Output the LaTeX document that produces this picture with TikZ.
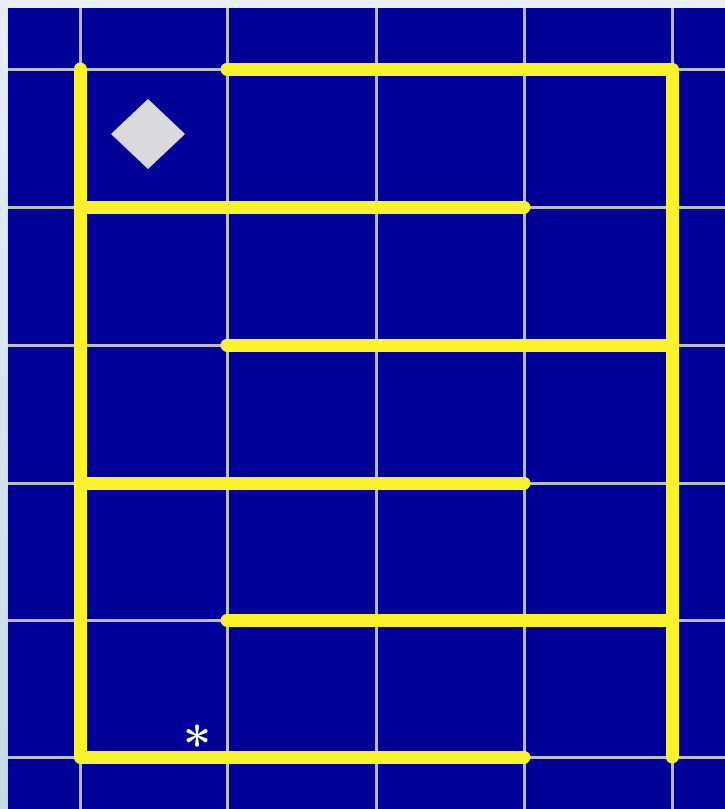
\documentclass[tikz,border=0pt]{standalone}
\usetikzlibrary{shadings}
\definecolor{bgblue}{RGB}{0,0,152}
\definecolor{gridgray}{RGB}{190,188,190}
\definecolor{wallyellow}{RGB}{250,242,45}
\definecolor{diamondgray}{RGB}{218,218,222}
\definecolor{marginleft}{RGB}{196,216,234}
\definecolor{margintop}{RGB}{232,238,244}
\tikzset{
  gridline/.style={draw=gridgray, line width=3pt},
  wall/.style={draw=wallyellow, line width=13pt, line cap=round, line join=round},
}
\begin{document}
\begin{tikzpicture}[x=1pt,y=-1pt]
\useasboundingbox (0,0) rectangle (725,809);
% margins
\fill[margintop] (0,0) rectangle (725,8);
\shade[top color=margintop, bottom color=marginleft] (0,8) rectangle (8,809);
% background
\fill[bgblue] (8,8) rectangle (725,809);
% grid
\foreach \x in {80,227,376,524,672} \draw[gridline] (\x,8) -- (\x,809);
\foreach \y in {69,207,345,483,620,757} \draw[gridline] (8,\y) -- (725,\y);
% walls
\draw[wall] (227,69) -- (672,69) -- (672,757);
\draw[wall] (80,69) -- (80,757) -- (524,757);
\draw[wall] (80,207) -- (524,207);
\draw[wall] (227,345) -- (672,345);
\draw[wall] (80,483) -- (524,483);
\draw[wall] (227,620) -- (672,620);
% diamond
\fill[diamondgray] (148,99) -- (185,134) -- (148,169) -- (111,134) -- cycle;
% asterisk
\node[text=white, font=\fontsize{50}{50}\selectfont\bfseries, inner sep=0pt] (star) at (198,744) {*};
\end{tikzpicture}
\end{document}
